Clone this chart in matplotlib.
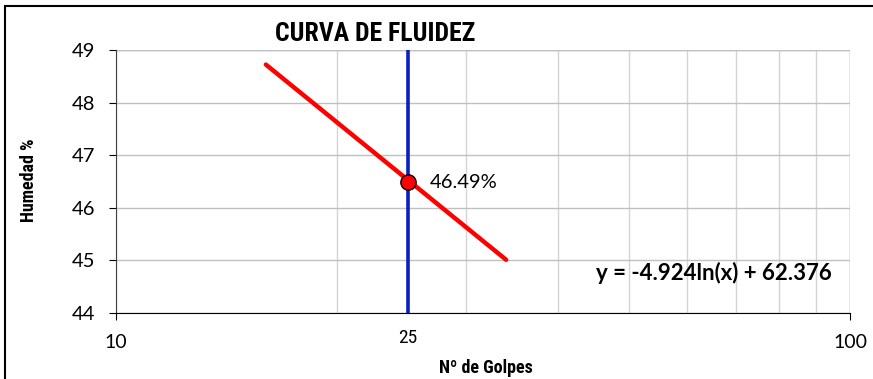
import matplotlib
matplotlib.use("Agg")
import matplotlib.pyplot as plt
import numpy as np
from matplotlib.patches import Rectangle

# trendline fit: y = a*ln(x) + b, drawn between the extreme blow counts
a_fit, b_fit = -4.924, 62.376
golpes_min, golpes_max = 16, 34
n_golpes = 25
humedad_25 = 46.49
y_ticks = [44, 45, 46, 47, 48, 49]
x_ticks = [10, 100]

NARROW = ["Roboto Condensed", "DejaVu Sans"]
BODY = ["Lato", "DejaVu Sans"]

fig = plt.figure(figsize=(8.73, 3.79), dpi=100)
ax = fig.add_axes([0.1329, 0.1741, 0.8408, 0.6939])

xs = np.array([golpes_min, golpes_max], float)
ax.plot(xs, a_fit * np.log(xs) + b_fit, color="#ff0000", lw=3.2,
        solid_capstyle="round", zorder=3)
ax.axvline(n_golpes, color="#0a1fc2", lw=2.6, zorder=2)
ax.plot([n_golpes], [humedad_25], "o", ms=11, mfc="#ff0000", mec="black",
        mew=1, zorder=4)
ax.text(n_golpes * 1.07, humedad_25, f"{humedad_25:.2f}%", fontsize=14.5,
        family=BODY, va="center", ha="left")
ax.text(0.975, 0.152, f"y = {a_fit:.3f}ln(x) + {b_fit:.3f}", transform=ax.transAxes,
        fontsize=16, family=BODY, fontweight="bold", ha="right", va="center")

ax.set_xscale("log")
ax.set_xlim(10, 100)
ax.set_ylim(44, 49)
ax.set_xticks(x_ticks)
ax.set_xticklabels([str(v) for v in x_ticks], family=BODY, fontsize=14)
ax.set_xticks(np.arange(20, 100, 10), minor=True)
ax.tick_params(axis="x", which="minor", length=0, labelbottom=False)
ax.tick_params(axis="x", which="major", length=5, direction="out", pad=10)
ax.set_yticks(y_ticks)
ax.set_yticklabels([str(v) for v in y_ticks], family=BODY, fontsize=14.5)
ax.tick_params(axis="y", length=5, direction="out", pad=10)
ax.text(n_golpes, 43.52, str(n_golpes), family=NARROW, fontstretch="condensed",
        fontsize=14, ha="center", va="center")

ax.grid(True, which="major", axis="y", color="#c0c0c0", lw=1)
ax.grid(True, which="both", axis="x", color="#d4d4d4", lw=1)
ax.set_axisbelow(True)
for s in ("top", "right"):
    ax.spines[s].set_visible(False)
ax.axhline(49, color="#a8a8a8", lw=1, zorder=0)
ax.axvline(100, color="#a8a8a8", lw=1, zorder=0)
ax.spines["left"].set_color("#404040")
ax.spines["bottom"].set_color("black")

fig.text(0.4296, 0.909, "CURVA DE FLUIDEZ", family=NARROW, fontstretch="condensed",
         fontsize=18.5, fontweight="bold", ha="center", va="center")
fig.text(0.556, 0.03, "Nº de Golpes", family=NARROW, fontstretch="condensed",
         fontsize=13, fontweight="bold", ha="center", va="center")
fig.text(0.033, 0.525, "Humedad %", family=NARROW, fontstretch="condensed",
         fontsize=13, fontweight="bold", rotation=90, ha="center", va="center")

# chart frame, clipped at the right and bottom edges
fig.patches.append(Rectangle((0.006, -0.05), 1.05, 1.034, transform=fig.transFigure,
                             fill=False, ec="black", lw=1.5))

fig.savefig("out.png", dpi=100)
